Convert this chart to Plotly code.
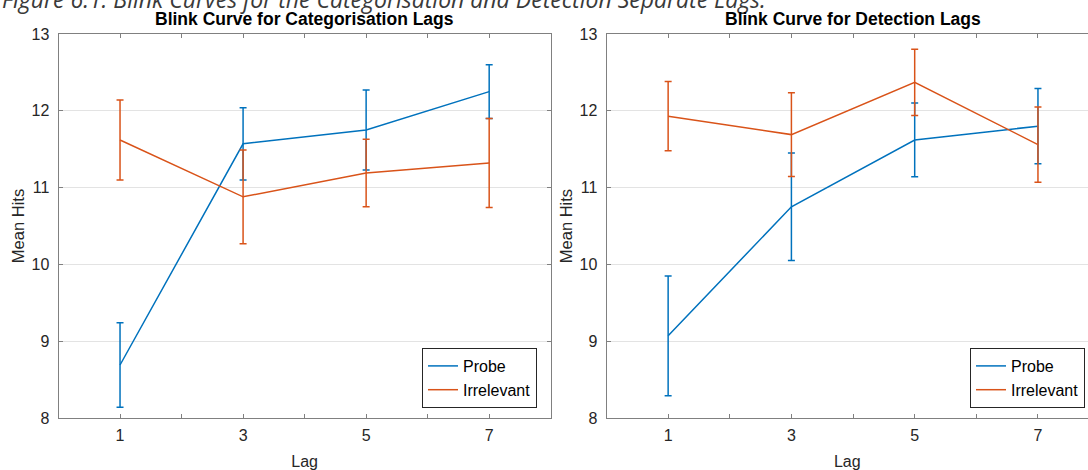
import plotly.graph_objects as go

# ---- data ----
lags = [1, 3, 5, 7]
cat_probe = [8.69, 11.57, 11.75, 12.25]
cat_probe_err = [0.55, 0.47, 0.52, 0.35]
cat_irr = [11.62, 10.88, 11.19, 11.32]
cat_irr_err = [0.52, 0.61, 0.44, 0.58]

det_probe = [9.07, 10.75, 11.62, 11.80]
det_probe_err = [0.78, 0.70, 0.48, 0.49]
det_irr = [11.93, 11.69, 12.37, 11.56]
det_irr_err = [0.45, 0.545, 0.43, 0.49]

x_tickvals = [0, 1, 2, 3, 4, 5, 6, 7, 8]
x_ticktext = ["", "1", "", "3", "", "5", "", "7", ""]
y_tickvals = [8, 9, 10, 11, 12, 13]

caption = "Figure 6.1: Blink Curves for the Categorisation and Detection Separate Lags."
title_left = "Blink Curve for Categorisation Lags"
title_right = "Blink Curve for Detection Lags"

BLUE = "#0072BD"
ORANGE = "#D95319"
W, H = 1088, 470

fig = go.Figure()


def add(x, y, err, color, name, xa, ya, legend, show):
    fig.add_trace(go.Scatter(
        x=x, y=y, mode="lines", name=name,
        line=dict(color=color, width=1.5),
        error_y=dict(type="data", array=err, visible=True, color=color,
                     thickness=1.5, width=3.5),
        xaxis=xa, yaxis=ya, legend=legend, showlegend=show,
    ))


add(lags, cat_probe, cat_probe_err, BLUE, "Probe", "x", "y", "legend", True)
add(lags, cat_irr, cat_irr_err, ORANGE, "Irrelevant", "x", "y", "legend", True)
add(lags, det_probe, det_probe_err, BLUE, "Probe", "x2", "y2", "legend2", True)
add(lags, det_irr, det_irr_err, ORANGE, "Irrelevant", "x2", "y2", "legend2", True)

FONT = "Liberation Sans, Arial, sans-serif"
AX = "#808080"
GRID = "#e3e3e3"

# pixel geometry -> paper fractions
ytop, ybot = 34, 418
yd = [(H - ybot) / H, (H - ytop) / H]
lx0, lx1 = 58.5, 550.7
rx0, rx_full = 606.5, 1099.6
unit_r = (rx_full - rx0) / 8.0
r_range_max = (W - rx0) / unit_r

common_x = dict(
    tickmode="array", tickvals=x_tickvals, ticktext=x_ticktext,
    ticks="inside", ticklen=4, tickcolor=AX, showline=True, linecolor=AX,
    linewidth=1, showgrid=False, zeroline=False, automargin=False,
    tickfont=dict(family=FONT, size=16, color="#262626"),
    ticklabelstandoff=3,
    title=dict(text="Lag", font=dict(family=FONT, size=16, color="#262626"), standoff=12),
)
common_y = dict(
    range=[8, 13], tickmode="array", tickvals=y_tickvals,
    ticks="inside", ticklen=4, tickcolor=AX, showline=True, linecolor=AX,
    linewidth=1, showgrid=True, gridcolor=GRID, gridwidth=1, zeroline=False,
    automargin=False,
    tickfont=dict(family=FONT, size=16, color="#262626"),
    ticklabelstandoff=5,
    title=dict(text="Mean Hits", font=dict(family=FONT, size=16.5, color="#262626"), standoff=2),
)

legend_common = dict(
    xanchor="right", yanchor="middle",
    bgcolor="white", bordercolor="#262626", borderwidth=1,
    font=dict(family=FONT, size=16, color="#000000"),
    tracegroupgap=0, itemwidth=30,
)

fig.update_layout(
    template="none",
    width=W, height=H,
    margin=dict(l=0, r=0, t=0, b=0, autoexpand=False),
    paper_bgcolor="white", plot_bgcolor="white",
    xaxis=dict(common_x, domain=[lx0 / W, lx1 / W], range=[0, 8], mirror="ticks", anchor="y"),
    yaxis=dict(common_y, domain=yd, mirror="ticks", anchor="x"),
    xaxis2=dict(common_x, domain=[rx0 / W, 1.0], range=[0, r_range_max], mirror="ticks", anchor="y2"),
    yaxis2=dict(common_y, domain=yd, mirror=False, anchor="x2"),
    legend=dict(legend_common, x=537 / W, y=(H - 378) / H),
    legend2=dict(legend_common, x=1085 / W, y=(H - 378) / H),
    showlegend=True,
)

fig.add_annotation(text=caption, x=0, y=1 + 1 / H, xref="paper", yref="paper",
                   xanchor="left", yanchor="middle", showarrow=False,
                   font=dict(family="Open Sans", size=23, color="#3a3a3a", style="italic"))
fig.add_annotation(text="<b>" + title_left + "</b>", x=(lx0 + lx1) / 2 / W, y=1 - 19 / H,
                   xref="paper", yref="paper", xanchor="center", yanchor="middle",
                   showarrow=False, font=dict(family=FONT, size=17.5, color="#000000"))
fig.add_annotation(text="<b>" + title_right + "</b>", x=(rx0 + rx_full) / 2 / W, y=1 - 19 / H,
                   xref="paper", yref="paper", xanchor="center", yanchor="middle",
                   showarrow=False, font=dict(family=FONT, size=17.5, color="#000000"))

fig.write_html("out.html", config={"displayModeBar": False},
               post_script="document.body.style.margin='0';")
